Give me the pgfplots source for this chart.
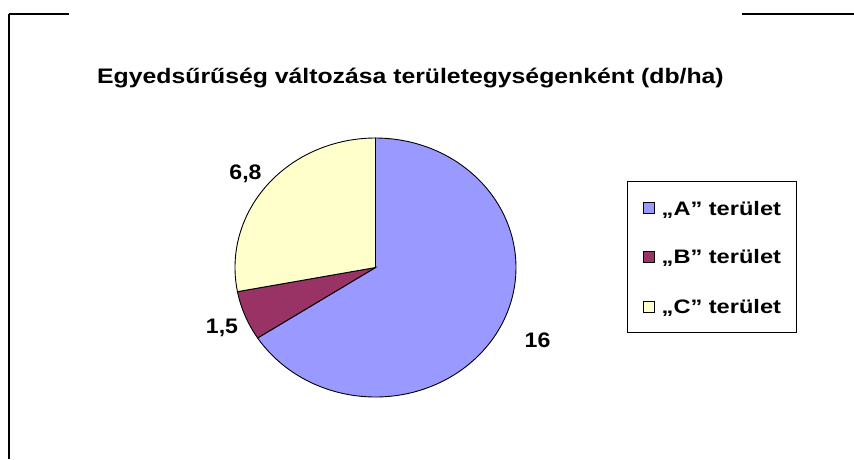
\documentclass[border=0pt]{standalone}
\usepackage{fontspec}
\setmainfont{Liberation Sans}[FakeStretch=1.1]
\newfontfamily\titlefont{Liberation Sans}[FakeStretch=1.18]
\newfontfamily\legfont{Liberation Sans}[FakeStretch=1.21]
\usepackage{pgfplots}
\pgfplotsset{compat=1.18}
\usepackage{pgfplotstable}

\definecolor{cA}{HTML}{9999FF}
\definecolor{cB}{HTML}{993366}
\definecolor{cC}{HTML}{FFFFCC}

% pie values (db/ha)
\pgfplotstableread{
label value
A 16
B 1.5
C 6.8
}\piedata
\pgfplotstablegetelem{0}{value}\of\piedata\let\va\pgfplotsretval
\pgfplotstablegetelem{1}{value}\of\piedata\let\vb\pgfplotsretval
\pgfplotstablegetelem{2}{value}\of\piedata\let\vc\pgfplotsretval
\pgfmathsetmacro\tot{\va+\vb+\vc}
\pgfmathsetmacro\angA{90-360*\va/\tot}
\pgfmathsetmacro\angB{\angA-360*\vb/\tot}
\pgfmathsetmacro\angC{\angB-360*\vc/\tot}
\def\cx{375.5}\def\cy{267.5}\def\rx{140.5}\def\ry{129.5}

\begin{document}
\begin{tikzpicture}
\begin{axis}[
  hide axis,
  x=1pt, y=1pt,
  xmin=0, xmax=854, ymin=0, ymax=459,
  enlargelimits=false,
  y dir=reverse, clip=false,
  samples=150, variable=\t,
]
% frame pieces
\draw[line width=1.5pt] (9,14) -- (69,14);
\draw[line width=1.5pt] (9,14) -- (9,459);
\draw[line width=1.5pt] (742,14) -- (854,14);
% title
\node[anchor=base, font=\titlefont\bfseries\fontsize{21}{25}\selectfont] at (410.5,83.5)
  {Egyedsűrűség változása területegységenként (db/ha)};
% sectors
\addplot[draw=black, line width=0.9pt, fill=cA, domain=\angA:90]
  ({\cx+\rx*cos(\t)},{\cy-\ry*sin(\t)}) -- (\cx,\cy) -- cycle;
\addplot[draw=black, line width=0.9pt, fill=cB, domain=\angB:\angA]
  ({\cx+\rx*cos(\t)},{\cy-\ry*sin(\t)}) -- (\cx,\cy) -- cycle;
\addplot[draw=black, line width=0.9pt, fill=cC, domain=\angC:\angB]
  ({\cx+\rx*cos(\t)},{\cy-\ry*sin(\t)}) -- (\cx,\cy) -- cycle;
% data labels
\begin{scope}[every node/.style={anchor=base, font=\bfseries\fontsize{21}{25}\selectfont}]
\node at (245.5,179.5) {6,8};
\node at (222,333.5) {1,5};
\node at (537.5,347.5) {16};
\end{scope}
% legend
\draw[line width=0.9pt] (627,181) rectangle (796,332);
\begin{scope}[every node/.style={anchor=base west, font=\legfont\bfseries\fontsize{19.5}{23}\selectfont, inner sep=0pt}]
\draw[fill=cA, line width=0.8pt] (643,202) rectangle (654,213);
\node at (661.5,215.3) {„A” terület};
\draw[fill=cB, line width=0.8pt] (643,251) rectangle (654,262);
\node at (661.5,263.6) {„B” terület};
\draw[fill=cC, line width=0.8pt] (643,301) rectangle (654,312);
\node at (661.5,313.6) {„C” terület};
\end{scope}
\end{axis}
\pgfresetboundingbox
\path (current axis.south west) rectangle (current axis.north east);
\end{tikzpicture}
\end{document}
